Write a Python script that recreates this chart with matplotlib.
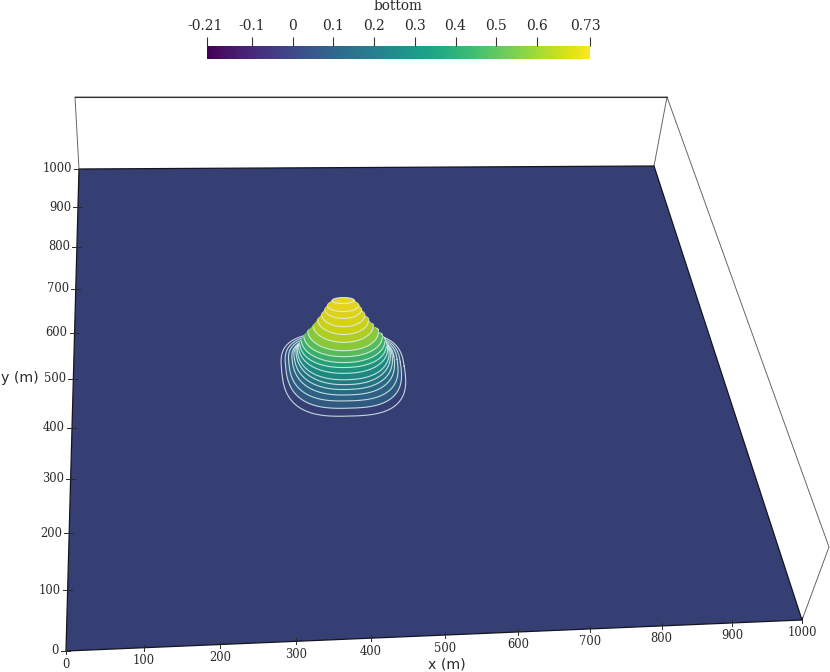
import numpy as np
import matplotlib
matplotlib.use("Agg")
import matplotlib.pyplot as plt
from matplotlib.transforms import ScaledTranslation

# ---- data ----
x_ticks = [0, 100, 200, 300, 400, 500, 600, 700, 800, 900, 1000]
y_ticks = [0, 100, 200, 300, 400, 500, 600, 700, 800, 900, 1000]
cbar_ticks = [-0.21, -0.1, 0, 0.1, 0.2, 0.3, 0.4, 0.5, 0.6, 0.73]
cbar_labels = ["-0.21", "-0.1", "0", "0.1", "0.2", "0.3", "0.4", "0.5", "0.6", "0.73"]
# contour rings of the bump, lowest first: apparent height, half-width,
# front and back depth on the plane (m), squareness, and the colour value
ring_z = [0.086, 0.124, 0.152, 0.181, 0.21, 0.238, 0.257, 0.286, 0.314, 0.352,
          0.39, 0.438, 0.486, 0.543, 0.59, 0.638, 0.676, 0.724]
ring_w = [94, 88, 83, 78, 75, 72, 70, 68, 66, 64, 60, 54, 46, 39, 33, 28, 24, 17]
ring_front = [102, 94, 85, 79, 74, 70, 64, 57, 51, 49, 45, 43, 36, 32, 26, 19, 13, 6.4]
ring_back = [77, 66, 57, 49, 43, 36, 32, 26, 19, 15, 13, 11, 11, 13, 15, 13, 12, 6.4]
ring_n = [2.9, 2.8, 2.7, 2.5, 2.4, 2.3, 2.3, 2.2, 2.2, 2.1, 2.1, 2.1, 2, 2, 2, 2, 2, 2]
ring_value = [0.03, 0.08, 0.11, 0.14, 0.18, 0.22, 0.27, 0.32, 0.38, 0.44, 0.50,
              0.58, 0.64, 0.68, 0.70, 0.71, 0.72, 0.72]
bump_x, bump_y = 405, 493
dome_start = 8  # rings from here on form the closed dome silhouette

# projected outline of the scene, in figure pixels
plate_corners = [(66, 651), (802, 620), (654, 166), (79, 169)]
frame_lines = [[(79, 169), (75, 97), (667, 97), (654, 166)],
               [(667, 97), (829, 547), (802, 620)]]
lift = 105.0
plate_colour = "#353f74"

# ---- projection of the plate (homography from its four corners) ----
src = [(0, 0), (1000, 0), (1000, 1000), (0, 1000)]
A, b = [], []
for (u, v), (px, py) in zip(src, plate_corners):
    A.append([u, v, 1, 0, 0, 0, -u * px, -v * px]); b.append(px)
    A.append([0, 0, 0, u, v, 1, -u * py, -v * py]); b.append(py)
h = np.linalg.solve(np.array(A, float), np.array(b, float))
H = np.append(h, 1).reshape(3, 3)


def project(x, y, z=0.0):
    x, y = np.asarray(x, float), np.asarray(y, float)
    w = H[2, 0] * x + H[2, 1] * y + H[2, 2]
    return (H[0, 0] * x + H[0, 1] * y + H[0, 2]) / w, \
           (H[1, 0] * x + H[1, 1] * y + H[1, 2]) / w - lift * z


def ring_outline(z, w, df, db, n):
    t = np.linspace(0, 2 * np.pi, 241)
    cx = np.sign(np.cos(t)) * np.abs(np.cos(t)) ** (2 / n)
    cy = np.sign(np.sin(t)) * np.abs(np.sin(t)) ** (2 / n)
    depth = np.where(cy < 0, df, db)
    return project(bump_x + w * cx, bump_y + depth * cy, z)


W, Ht = 830, 672
fig = plt.figure(figsize=(W / 100, Ht / 100), dpi=100)
ax = fig.add_axes([0, 0, 1, 1])
ax.set_xlim(0, W)
ax.set_ylim(Ht, 0)
ax.axis("off")

ink = "#2a2a2a"
serif = "DejaVu Serif"

# frame
for line in frame_lines:
    xs, ys = zip(*line)
    ax.plot(xs, ys, color="#666666", lw=0.7, zorder=1)
ax.plot([75, 667], [97, 97], color="#333333", lw=0.8, zorder=1)

# plate
px = [c[0] for c in plate_corners]
py = [c[1] for c in plate_corners]
ax.fill(px, py, facecolor=plate_colour, edgecolor="#15151f", lw=0.9, zorder=2)

# bump: contour rings painted from the lowest to the highest
cmap = plt.get_cmap("viridis")
rings = list(zip(ring_z, ring_w, ring_front, ring_back, ring_n, ring_value))
for i, (z, w, df, db, n, val) in enumerate(rings):
    xs, ys = ring_outline(z, w, df, db, n)
    if i == 0:
        colour = plate_colour
    else:
        colour = tuple(np.array(cmap((val + 0.21) / 0.94)[:3]) * 0.92)
    zo = 3 + i * 0.01
    ax.fill(xs, ys, facecolor=colour, edgecolor="none", zorder=zo)
    ax.plot(xs, ys, color="#dff0ee", lw=0.8, alpha=0.85, zorder=zo)
    if dome_start <= i < len(rings) - 1:
        # flank of the dome up to the next ring: hides this ring's back arc
        nz, nw, ndf, ndb, nn, _ = rings[i + 1]
        nx, ny = ring_outline(nz, nw, ndf, ndb, nn)
        l, r = np.argmin(xs), np.argmax(xs)
        nl, nr = np.argmin(nx), np.argmax(nx)
        ax.fill([xs[l], xs[r], nx[nr], nx[nl]], [ys[l], ys[r], ny[nr], ny[nl]],
                facecolor=colour, edgecolor=colour, lw=0.5, zorder=zo + 0.001)

# x axis
for v in x_ticks:
    tx, ty = project(v, 0)
    ax.plot([tx, tx], [ty - 3, ty + 3], color=ink, lw=0.7, zorder=5)
    ax.text(tx, ty + 13, str(v), ha="center", va="center", family=serif,
            fontsize=8.3, color=ink)
# y axis
for v in y_ticks:
    tx, ty = project(0, v)
    ax.plot([tx - 5, tx + 4], [ty, ty], color=ink, lw=0.7, zorder=5)
    ax.text(tx - 7, ty, str(v), ha="right", va="center", family=serif,
            fontsize=8.3, color=ink)

ax.text(447, 664, "x (m)", ha="center", va="center", fontsize=10.2, color=ink)
ax.text(1, 378, "y (m)", ha="left", va="center", fontsize=10.2, color=ink)

# colour bar
cax = fig.add_axes([207 / W, 1 - 59 / Ht, 383 / W, 13 / Ht])
grad = np.linspace(0, 1, 256).reshape(1, -1)
cax.imshow(grad, aspect="auto", cmap=cmap, extent=(-0.21, 0.73, 0, 1))
cax.set_yticks([])
cax.set_xticks(cbar_ticks)
cax.set_xticklabels(cbar_labels, family=serif, fontsize=10, color=ink)
cax.xaxis.tick_top()
cax.tick_params(axis="x", length=6.5, width=0.8, color="#333333", pad=3)
for sp in cax.spines.values():
    sp.set_visible(False)
labels = cax.get_xticklabels()
for lab, shift_px in ((labels[0], -2), (labels[-1], -5)):
    lab.set_transform(lab.get_transform() + ScaledTranslation(shift_px / 100, 0, fig.dpi_scale_trans))
fig.text(398 / W, 1 - 6 / Ht, "bottom", ha="center", va="center", family=serif,
         fontsize=9.8, color=ink)

fig.savefig("out.png", dpi=100)
